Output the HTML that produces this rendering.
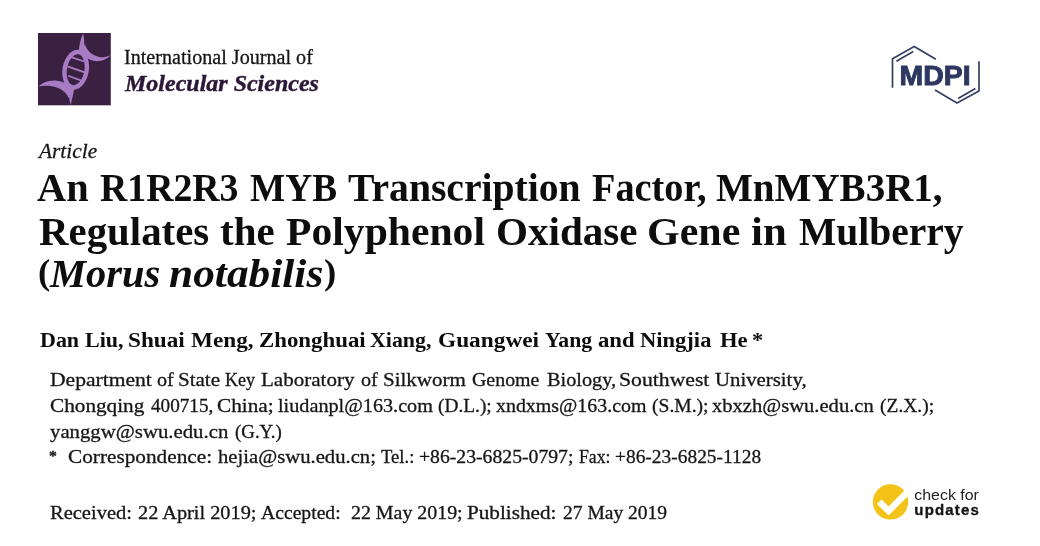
<!DOCTYPE html>
<html lang="en">
<head>
<meta charset="utf-8">
<title>An R1R2R3 MYB Transcription Factor, MnMYB3R1</title>
<style>
html,body{margin:0;padding:0;background:#fff;}
body{width:1040px;height:546px;position:relative;overflow:hidden;font-family:"Liberation Serif",serif;color:#111;}
.ln{position:absolute;white-space:nowrap;transform-origin:0 0;line-height:1;margin:0;padding:0;}
.t{font-weight:bold;color:#0d0d0d;}
.au{font-weight:bold;color:#0d0d0d;}
.af{color:#161616;-webkit-text-stroke:0.3px #161616;}
</style>
</head>
<body>

<svg id="logo" style="position:absolute;left:32px;top:28px;width:86px;height:82px" viewBox="0 0 573 546">
<rect x="40" y="33" width="485" height="482" fill="#3a2141"/>
<g fill="#a87cc4" stroke="none">
<path d="M341 35 C 326 70, 313 110, 312 165 L 350 170 C 346 120, 352 80, 341 35 Z"/>
<path d="M352 105 C 364 150, 400 184, 450 193 C 480 197, 505 192, 523 182 C 503 208, 462 224, 420 220 C 385 216, 360 200, 335 170 Z"/>
<path d="M257 513 C 266 480, 276 440, 282 395 L 240 395 C 244 440, 248 480, 257 513 Z"/>
<path d="M44 389 C 64 368, 100 351, 150 350 C 195 351, 232 368, 262 400 L 246 468 C 232 435, 200 405, 160 394 C 115 383, 75 384, 44 389 Z"/>
</g>
<ellipse cx="291" cy="278" rx="73" ry="119" transform="rotate(10 291 278)" fill="none" stroke="#a87cc4" stroke-width="29"/>
<g stroke="#a87cc4" stroke-width="12" fill="none">
<path d="M246 189 L348 223"/>
<path d="M226 252 L352 296"/>
<path d="M240 318 L344 356"/>
</g>
</svg>
<svg id="mdpi" style="position:absolute;left:880px;top:40px;width:110px;height:70px" viewBox="880 40 110 70">
<g fill="none" stroke="#343e67" stroke-width="1.7" stroke-linejoin="miter" stroke-linecap="butt">
<path d="M892.5 87.7 L892.5 58.8 L914.2 46.5 L935.9 59.3"/>
<path d="M896.4 61.3 L913.2 51.6"/>
<path d="M979 61.3 L979 91 L957 103 L935 90.1"/>
<path d="M975.4 88.5 L958.1 98.4"/>
</g>
<text x="899.6" y="84.6" font-family="'Liberation Sans',sans-serif" font-weight="bold" font-size="27" fill="#2d3760" stroke="#2d3760" stroke-width="0.9" textLength="71" lengthAdjust="spacingAndGlyphs">MDPI</text>
</svg>
<svg id="cfu" style="position:absolute;left:865px;top:478px;width:130px;height:48px" viewBox="865 478 130 48">
<circle cx="890.5" cy="501.9" r="17.7" fill="#f4c318"/>
<path d="M879.25 501.75 L888.57 511.07 L909.5 490.1" fill="none" stroke="#ffffff" stroke-width="6.4" stroke-linejoin="miter" stroke-linecap="butt"/>
<text x="914.3" y="499.8" font-family="'Liberation Sans',sans-serif" font-size="15.5" fill="#222222" textLength="64.6" lengthAdjust="spacingAndGlyphs">check for</text>
<text x="914.3" y="514.5" font-family="'Liberation Sans',sans-serif" font-weight="bold" font-size="15" fill="#161616" stroke="#161616" stroke-width="0.35" textLength="64.6" lengthAdjust="spacing">updates</text>
</svg>

<div class="ln " style="left:123.82px;top:47.20px;font-size:20.00px;transform:scaleX(1.0061);color:#151515;-webkit-text-stroke:0.3px #151515;">International Journal of</div>
<div class="ln " style="left:124.95px;top:72.81px;font-size:22.40px;transform:scaleX(1.0715);font-weight:bold;font-style:italic;color:#2b1838;-webkit-text-stroke:0.4px #2b1838;">Molecular Sciences</div>
<div class="ln af" style="left:38.97px;top:141.42px;font-size:21.30px;transform:scaleX(1.0026);font-style:italic;">Article</div>
<div class="ln t" style="left:37.38px;top:167.83px;font-size:39.00px;transform:scaleX(1.0352);">An</div>
<div class="ln t" style="left:100.48px;top:167.83px;font-size:39.00px;transform:scaleX(0.9686);">R1R2R3</div>
<div class="ln t" style="left:250.19px;top:167.83px;font-size:39.00px;transform:scaleX(0.9564);">MYB</div>
<div class="ln t" style="left:347.92px;top:167.83px;font-size:39.00px;transform:scaleX(1.0162);">Transcription</div>
<div class="ln t" style="left:591.68px;top:167.83px;font-size:39.00px;transform:scaleX(0.9819);">Factor,</div>
<div class="ln t" style="left:715.56px;top:167.83px;font-size:39.00px;transform:scaleX(1.0010);">MnMYB3R1,</div>
<div class="ln t" style="left:39.33px;top:211.53px;font-size:39.00px;transform:scaleX(1.0477);">Regulates</div>
<div class="ln t" style="left:220.19px;top:211.53px;font-size:39.00px;transform:scaleX(1.0512);">the</div>
<div class="ln t" style="left:285.52px;top:211.53px;font-size:39.00px;transform:scaleX(1.0675);">Polyphenol</div>
<div class="ln t" style="left:496.39px;top:211.53px;font-size:39.00px;transform:scaleX(1.0538);">Oxidase</div>
<div class="ln t" style="left:647.05px;top:211.53px;font-size:39.00px;transform:scaleX(1.0766);">Gene</div>
<div class="ln t" style="left:751.20px;top:211.53px;font-size:39.00px;transform:scaleX(1.0963);">in</div>
<div class="ln t" style="left:799.36px;top:211.53px;font-size:39.00px;transform:scaleX(1.0132);">Mulberry</div>
<div class="ln t" style="left:49.70px;top:253.83px;font-size:39.00px;transform:scaleX(1.0377);"><i>Morus</i></div>
<div class="ln t" style="left:169.19px;top:253.83px;font-size:39.00px;transform:scaleX(1.1125);"><i>notabilis</i></div>
<div class="ln t" style="left:37.80px;top:254.85px;font-size:35.00px;transform:scaleX(1.0500);">(</div>
<div class="ln t" style="left:323.80px;top:254.85px;font-size:35.00px;transform:scaleX(1.0500);">)</div>
<div class="ln au" style="left:39.62px;top:330.22px;font-size:21.30px;transform:scaleX(1.0324);">Dan</div>
<div class="ln au" style="left:85.24px;top:330.22px;font-size:21.30px;transform:scaleX(1.0329);">Liu,</div>
<div class="ln au" style="left:128.35px;top:330.22px;font-size:21.30px;transform:scaleX(1.0902);">Shuai</div>
<div class="ln au" style="left:191.41px;top:330.22px;font-size:21.30px;transform:scaleX(1.0908);">Meng,</div>
<div class="ln au" style="left:258.53px;top:330.22px;font-size:21.30px;transform:scaleX(1.0726);">Zhonghuai</div>
<div class="ln au" style="left:370.32px;top:330.22px;font-size:21.30px;transform:scaleX(1.0285);">Xiang,</div>
<div class="ln au" style="left:437.91px;top:330.22px;font-size:21.30px;transform:scaleX(1.0947);">Guangwei</div>
<div class="ln au" style="left:545.14px;top:330.22px;font-size:21.30px;transform:scaleX(1.0196);">Yang</div>
<div class="ln au" style="left:598.24px;top:330.22px;font-size:21.30px;transform:scaleX(1.0642);">and</div>
<div class="ln au" style="left:640.49px;top:330.22px;font-size:21.30px;transform:scaleX(1.0587);">Ningjia</div>
<div class="ln au" style="left:720.23px;top:330.22px;font-size:21.30px;transform:scaleX(1.0601);">He</div>
<div class="ln au" style="left:752.49px;top:330.22px;font-size:21.30px;transform:scaleX(1.0500);">*</div>
<div class="ln af" style="left:50.26px;top:370.26px;font-size:19.20px;transform:scaleX(1.1246);">Department</div>
<div class="ln af" style="left:157.28px;top:370.26px;font-size:19.20px;transform:scaleX(1.0500);">of</div>
<div class="ln af" style="left:178.35px;top:370.26px;font-size:19.20px;transform:scaleX(1.0961);">State</div>
<div class="ln af" style="left:224.73px;top:370.26px;font-size:19.20px;transform:scaleX(0.9419);">Key</div>
<div class="ln af" style="left:260.54px;top:370.26px;font-size:19.20px;transform:scaleX(1.0965);">Laboratory</div>
<div class="ln af" style="left:360.78px;top:370.26px;font-size:19.20px;transform:scaleX(1.0500);">of</div>
<div class="ln af" style="left:382.56px;top:370.26px;font-size:19.20px;transform:scaleX(1.0940);">Silkworm</div>
<div class="ln af" style="left:471.64px;top:370.26px;font-size:19.20px;transform:scaleX(1.0363);">Genome</div>
<div class="ln af" style="left:546.65px;top:370.26px;font-size:19.20px;transform:scaleX(1.0558);">Biology,</div>
<div class="ln af" style="left:618.51px;top:370.26px;font-size:19.20px;transform:scaleX(1.1306);">Southwest</div>
<div class="ln af" style="left:715.06px;top:370.26px;font-size:19.20px;transform:scaleX(1.0837);">University,</div>
<div class="ln af" style="left:50.10px;top:396.46px;font-size:19.20px;transform:scaleX(1.1061);">Chongqing</div>
<div class="ln af" style="left:150.59px;top:396.46px;font-size:19.20px;transform:scaleX(0.9992);">400715,</div>
<div class="ln af" style="left:216.50px;top:396.46px;font-size:19.20px;transform:scaleX(1.1078);">China;</div>
<div class="ln af" style="left:277.82px;top:396.46px;font-size:19.20px;transform:scaleX(1.0528);">liudanpl@163.com</div>
<div class="ln af" style="left:438.42px;top:396.46px;font-size:19.20px;transform:scaleX(1.0088);">(D.L.);</div>
<div class="ln af" style="left:496.40px;top:396.46px;font-size:19.20px;transform:scaleX(1.0369);">xndxms@163.com</div>
<div class="ln af" style="left:652.42px;top:396.46px;font-size:19.20px;transform:scaleX(1.0197);">(S.M.);</div>
<div class="ln af" style="left:712.38px;top:396.46px;font-size:19.20px;transform:scaleX(1.0718);">xbxzh@swu.edu.cn</div>
<div class="ln af" style="left:879.92px;top:396.46px;font-size:19.20px;transform:scaleX(1.0147);">(Z.X.);</div>
<div class="ln af" style="left:50.48px;top:421.86px;font-size:19.20px;transform:scaleX(1.0822);">yanggw@swu.edu.cn</div>
<div class="ln af" style="left:235.14px;top:421.86px;font-size:19.20px;transform:scaleX(0.9822);">(G.Y.)</div>
<div class="ln af" style="left:67.90px;top:447.36px;font-size:19.20px;transform:scaleX(1.1082);">Correspondence:</div>
<div class="ln af" style="left:218.15px;top:447.36px;font-size:19.20px;transform:scaleX(1.0770);">hejia@swu.edu.cn;</div>
<div class="ln af" style="left:380.55px;top:447.36px;font-size:19.20px;transform:scaleX(0.9724);">Tel.:</div>
<div class="ln af" style="left:418.93px;top:447.36px;font-size:19.20px;transform:scaleX(1.0265);">+86-23-6825-0797;</div>
<div class="ln af" style="left:579.11px;top:447.36px;font-size:19.20px;transform:scaleX(0.9209);">Fax:</div>
<div class="ln af" style="left:615.04px;top:447.36px;font-size:19.20px;transform:scaleX(1.0120);">+86-23-6825-1128</div>
<div class="ln af" style="left:48.90px;top:448.55px;font-size:15.00px;transform:scaleX(1.0500);font-weight:bold;">*</div>
<div class="ln af" style="left:50.45px;top:502.86px;font-size:19.20px;transform:scaleX(1.0678);">Received:</div>
<div class="ln af" style="left:137.81px;top:502.86px;font-size:19.20px;transform:scaleX(1.0583);">22 April 2019;</div>
<div class="ln af" style="left:261.42px;top:502.86px;font-size:19.20px;transform:scaleX(1.0241);">Accepted:</div>
<div class="ln af" style="left:351.02px;top:502.86px;font-size:19.20px;transform:scaleX(1.0369);">22 May 2019;</div>
<div class="ln af" style="left:466.73px;top:502.86px;font-size:19.20px;transform:scaleX(1.1041);">Published:</div>
<div class="ln af" style="left:563.23px;top:502.86px;font-size:19.20px;transform:scaleX(1.0168);">27 May 2019</div>
</body>
</html>
